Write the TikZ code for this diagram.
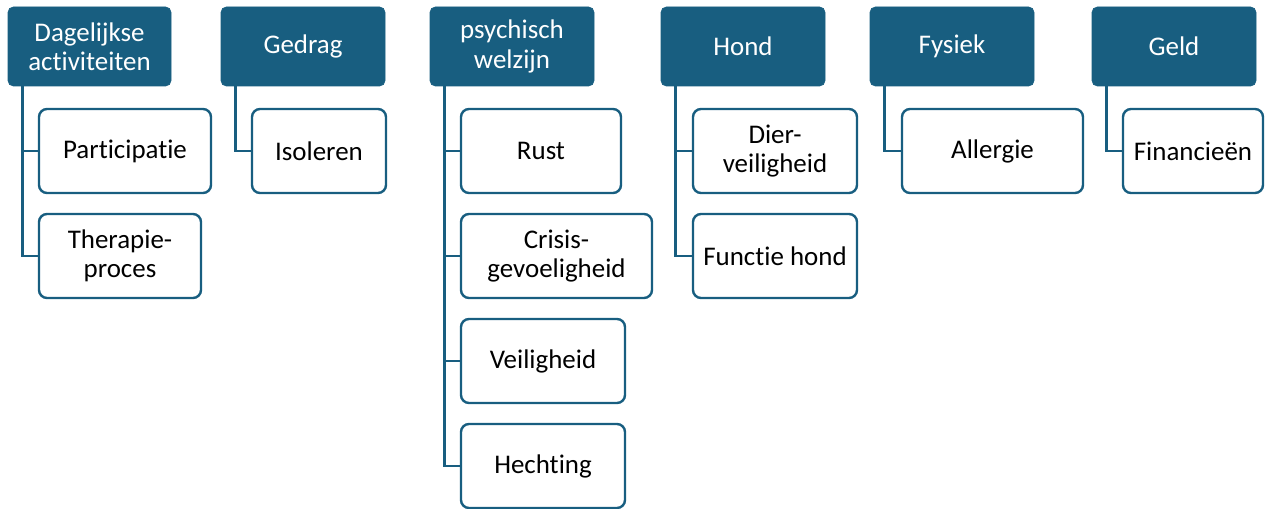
\documentclass[tikz,border=0pt]{standalone}
\usepackage{fontspec}
\setmainfont{Carlito}[Ligatures=NoCommon]
\definecolor{dblue}{HTML}{185E80}
\tikzset{
  topbox/.style={fill=dblue, draw=dblue, line width=0.5pt, rounded corners=4pt, text=white, align=center, inner sep=0pt, font=\fontsize{20.2}{21.9}\selectfont},
  subbox/.style={fill=white, draw=dblue, line width=1.8pt, rounded corners=6pt, text=black, align=center, inner sep=0pt, font=\fontsize{20.2}{21.9}\selectfont},
  conn/.style={draw=dblue, line width=2.2pt},
}
\newcommand\mknode[7]{%
  \node[#1, minimum width={(#5-#3)*0.75pt}, minimum height={(#6-#4)*0.75pt}] (#2) at ({(#3+#5)/2},{(#4+#6)/2}) {#7};}
\begin{document}
\begin{tikzpicture}[x=0.75pt,y=-0.75pt]
\useasboundingbox (0,0) rectangle (1267,509);
% top boxes
\mknode{topbox}{D}{8}{7}{171}{86}{Dagelijkse\\activiteiten}
\mknode{topbox}{G}{221}{7}{385}{86}{Gedrag}
\mknode{topbox}{W}{430}{7}{594}{86}{psychisch\\welzijn}
\mknode{topbox}{H}{661}{7}{825}{86}{Hond}
\mknode{topbox}{F}{870}{7}{1034}{86}{Fysiek}
\mknode{topbox}{L}{1092}{7}{1256}{86}{Geld}
% children
\mknode{subbox}{D1}{39}{109}{211}{193}{Participatie}
\mknode{subbox}{D2}{39}{214}{201}{298}{Therapie-\\proces}
\mknode{subbox}{G1}{252}{109}{386}{193}{Isoleren}
\mknode{subbox}{W1}{461}{109}{621}{193}{Rust}
\mknode{subbox}{W2}{461}{214}{652}{298}{Crisis-\\gevoeligheid}
\mknode{subbox}{W3}{461}{319}{625}{403}{Veiligheid}
\mknode{subbox}{W4}{461}{424}{625}{508}{Hechting}
\mknode{subbox}{H1}{693}{109}{857}{193}{Dier-\\veiligheid}
\mknode{subbox}{H2}{693}{214}{857}{298}{Functie hond}
\mknode{subbox}{F1}{902}{109}{1083}{193}{Allergie}
\mknode{subbox}{L1}{1123}{109}{1263}{193}{Financieën}
% connectors
\foreach \p/\c in {D/D1,D/D2,G/G1,W/W1,W/W2,W/W3,W/W4,H/H1,H/H2,F/F1,L/L1}{
  \draw[conn] ([xshift=11.25pt]\p.south west) |- (\c.west);
}
\end{tikzpicture}
\end{document}
